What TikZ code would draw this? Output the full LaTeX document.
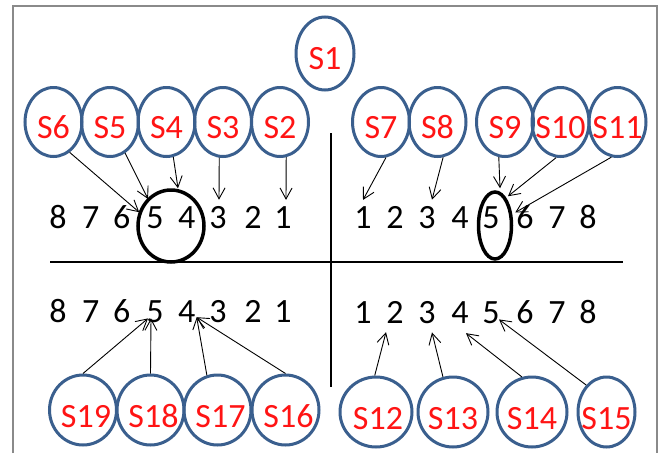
\documentclass[tikz,border=0pt]{standalone}
\usepackage{fontspec}
\setmainfont{Carlito}
\usetikzlibrary{arrows.meta,calc,shapes.geometric}
\definecolor{ringblue}{HTML}{3A5F8E}
\definecolor{labelred}{HTML}{FF1414}
\definecolor{framegray}{HTML}{8A8A8A}
% zero-width label so the text never enlarges the ellipse
\newcommand\zw[1]{\makebox[0pt]{#1}}
\begin{document}
\begin{tikzpicture}[x=1pt,y=-1pt,
  state/.style={ellipse, draw=ringblue, line width=3pt, inner sep=0pt,
    text=labelred, font=\fontsize{34}{40}\selectfont,
    text height=32.5pt, text depth=0pt},
  lowstate/.style={state, text height=35.5pt},
  digit/.style={inner sep=0pt, anchor=base, font=\fontsize{34}{40}\selectfont},
  ring/.style={ellipse, draw=black, line width=3.5pt, inner sep=0pt},
  link/.style={line width=0.9pt, -{Straight Barb[length=11pt,width=12pt]}},
  divider/.style={line width=1.4pt}]
\useasboundingbox (0,0) rectangle (659,453);
\fill[white] (0,0) rectangle (659,453);

% outer frame (open at the bottom)
\draw[framegray, line width=1.5pt] (13,453) -- (13,6) -- (657,6) -- (657,453);

% dividing cross
\draw[divider] (50,262) -- (623,262);
\draw[divider] (331,133) -- (331,387);

% highlight rings
\node[ring, minimum width=66pt, minimum height=72pt] (c54) at (171,226) {};
\node[ring, minimum width=33pt, minimum height=67pt] (e5) at (495,225.5) {};

% states
\node[state, minimum width=58pt, minimum height=73pt] (s1) at (325,53.5) {\zw{S1}};
\foreach \n/\x in {6/53.5,5/110,4/166.5,3/223,2/280,7/381,8/437.5,9/505,10/560.5,11/617.5}
  \node[state, minimum width=57pt, minimum height=69pt] (s\n) at (\x,122) {\zw{S\n}};
\foreach \n/\x in {19/83,18/150.5,17/217.5,16/285.5}
  \node[lowstate, minimum width=67pt, minimum height=70pt] (s\n) at (\x,410) {\zw{\hspace{6pt}S\n}};
\node[lowstate, minimum width=72pt, minimum height=70pt] (s12) at (376,412) {\zw{\hspace{4pt}S12}};
\node[lowstate, minimum width=70pt, minimum height=70pt] (s13) at (453,412) {\zw{S13}};
\node[lowstate, minimum width=70pt, minimum height=70pt] (s14) at (532,412) {\zw{S14}};
\node[lowstate, minimum width=57pt, minimum height=70pt] (s15) at (606.5,412) {\zw{S15}};

% digit rows
\foreach \d/\x in {8/58,7/90.7,6/121.7,5/155,4/186.7,3/218,2/253,1/283}{
  \node[digit] (tl\d) at (\x,228) {\d};
  \node[digit] (bl\d) at (\x,322) {\d};
}
\foreach \d/\x in {1/363,2/395,3/427,4/460,5/491,6/525,7/557,8/588}{
  \node[digit] (tr\d) at (\x,228) {\d};
  \node[digit] (br\d) at (\x,323) {\d};
}

% top-left arrows
\draw[link] (s6.-62) -- ($(tl5.west)+(-7,-5)$);
\draw[link] (s5.-64) -- ($(tl5.north)+(-7,-7)$);
\draw[link] (s4.-79) -- ($(c54.north)+(7,0)$);
\draw[link] (s3.-96) -- ($(tl3.north)+(1,-6)$);
\draw[link] (s2.-80) -- ($(tl1.north)+(3,-6)$);

% top-right arrows
\draw[link] (s7.-82) -- ($(tr1.north)+(0,-6)$);
\draw[link] (s8.-81) -- ($(tr3.north)+(5,-6)$);
\draw[link] (s9.-100) -- ($(e5.north)+(5,-2)$);
\draw[link] (s10.-97) -- ($(e5.north)+(13,6)$);
\draw[link] (s11.-100) -- ($(e5.east)+(2,-13)$);

% bottom-left arrows
\draw[link] (s19.90) -- ($(bl5.south)+(-7,-4)$);
\draw[link] (s18.90) -- ($(bl5.south)+(-4,-4)$);
\draw[link] (s17.107) -- ($(bl4.south)+(10,-5)$);
\draw[link] (s16.90) -- ($(bl4.south)+(10,-5)$);

% bottom-right arrows
\draw[link] (s12.92) -- ($(br2.south)+(-9,9)$);
\draw[link] (s13.106) -- ($(br3.south)+(5,9)$);
\draw[link] (s14.106) -- ($(br4.south)+(6,10)$);
\draw[link] (s15.127) -- ($(br5.south)+(8,-4)$);
\end{tikzpicture}
\end{document}
